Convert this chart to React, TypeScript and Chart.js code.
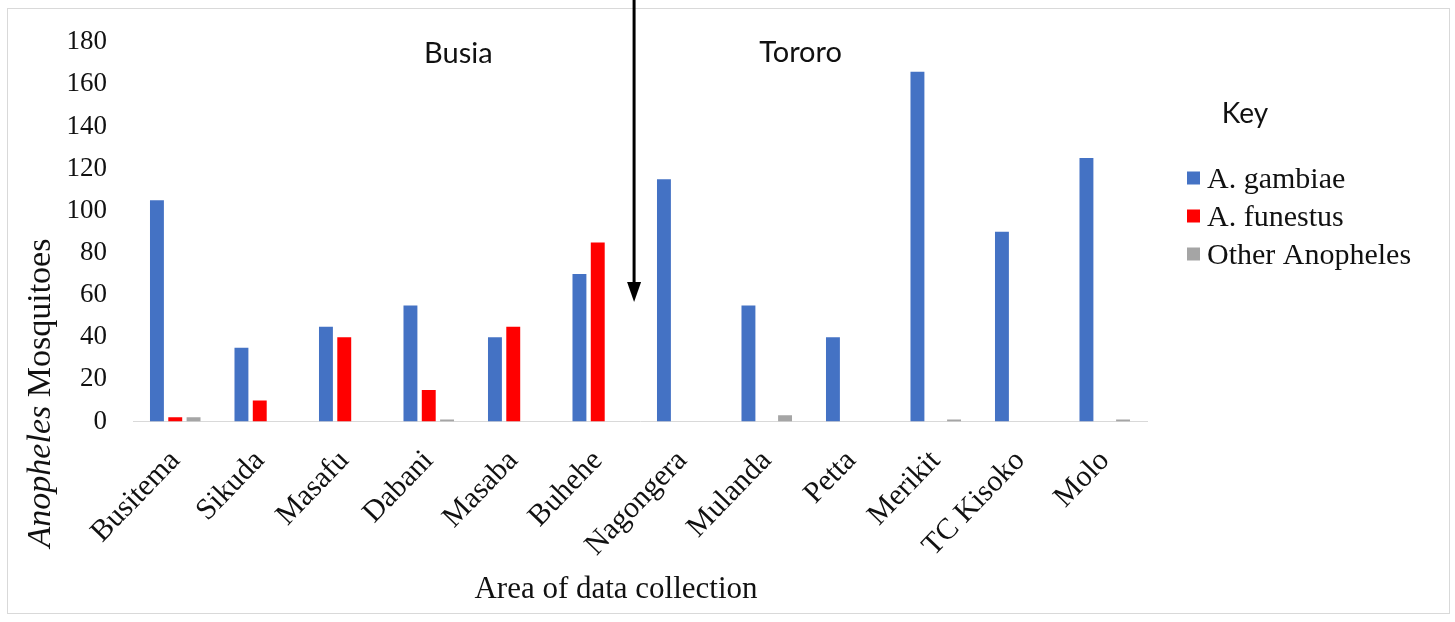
import React, { useEffect, useRef } from 'react';
import { Chart, registerables } from 'chart.js';

Chart.register(...registerables);

const categories = ['Busitema', 'Sikuda', 'Masafu', 'Dabani', 'Masaba', 'Buhehe', 'Nagongera', 'Mulanda', 'Petta', 'Merikit', 'TC Kisoko', 'Molo'];
const gambiae = [105, 35, 45, 55, 40, 70, 115, 55, 40, 166, 90, 125];
const funestus = [2, 10, 40, 15, 45, 85, 0, 0, 0, 0, 0, 0];
const otherAnopheles = [2, 0, 0, 1, 0, 0, 0, 3, 0, 1, 0, 1];
const seriesNames = ['A. gambiae', 'A. funestus', 'Other Anopheles'];
const seriesColors = ['#4472C4', '#FF0000', '#A5A5A5'];
const regionLabels = ['Busia', 'Tororo'];
const legendTitle = 'Key';
const yTitleItalic = 'Anopheles';
const yTitleRest = ' Mosquitoes';
const xTitle = 'Area of data collection';
const yMin = 0;
const yMax = 180;
const yStep = 20;

const SERIF = "'Times New Roman', 'Liberation Serif', serif";
const SANS = "Lato, 'Open Sans', sans-serif";
const W = 1455;
const H = 622;

const overlay = {
  id: 'overlay',
  afterDraw(chart: any) {
    const { ctx } = chart;
    const xs = chart.scales.x;
    ctx.save();
    // outer frame
    ctx.strokeStyle = '#d9d9d9';
    ctx.lineWidth = 1;
    ctx.strokeRect(7.5, 8.5, 1442, 605);

    // region labels
    ctx.fillStyle = '#111';
    ctx.font = `29px ${SANS}`;
    ctx.textAlign = 'center';
    ctx.textBaseline = 'alphabetic';
    ctx.fillText(regionLabels[0], xs.getPixelForValue(3.35), 63);
    ctx.fillText(regionLabels[1], xs.getPixelForValue(7.4), 62);

    // arrow
    const ax = xs.getPixelForValue(5.43);
    ctx.strokeStyle = '#000';
    ctx.lineWidth = 3;
    ctx.beginPath();
    ctx.moveTo(ax, 0);
    ctx.lineTo(ax, 286);
    ctx.stroke();
    ctx.fillStyle = '#000';
    ctx.beginPath();
    ctx.moveTo(ax - 7, 282);
    ctx.lineTo(ax + 7, 282);
    ctx.lineTo(ax, 302);
    ctx.closePath();
    ctx.fill();

    // y title
    ctx.save();
    ctx.translate(50, 393);
    ctx.rotate(-Math.PI / 2);
    ctx.fillStyle = '#111';
    ctx.textBaseline = 'alphabetic';
    ctx.textAlign = 'left';
    ctx.font = `italic 34px ${SERIF}`;
    const w1 = ctx.measureText(yTitleItalic).width;
    ctx.font = `34px ${SERIF}`;
    const w2 = ctx.measureText(yTitleRest).width;
    const start = -(w1 + w2) / 2;
    ctx.font = `italic 34px ${SERIF}`;
    ctx.fillText(yTitleItalic, start, 0);
    ctx.font = `34px ${SERIF}`;
    ctx.fillText(yTitleRest, start + w1, 0);
    ctx.restore();

    // x title
    ctx.fillStyle = '#111';
    ctx.font = `31px ${SERIF}`;
    ctx.textAlign = 'center';
    ctx.textBaseline = 'alphabetic';
    ctx.fillText(xTitle, 616, 598);

    // legend
    ctx.font = `28px ${SANS}`;
    ctx.textAlign = 'center';
    ctx.fillText(legendTitle, 1245, 123);
    ctx.textAlign = 'left';
    ctx.font = `30px ${SERIF}`;
    const rows = [178, 216, 254];
    seriesNames.forEach((name, i) => {
      ctx.fillStyle = seriesColors[i];
      ctx.fillRect(1187, rows[i] - 6.5, 13, 13);
      ctx.fillStyle = '#111';
      ctx.textBaseline = 'alphabetic';
      ctx.fillText(name, 1207, rows[i] + 10);
    });
    ctx.restore();
  },
};

export default function App() {
  const ref = useRef<HTMLCanvasElement | null>(null);
  useEffect(() => {
    if (!ref.current) return;
    const seriesData = [gambiae, funestus, otherAnopheles];
    const chart = new Chart(ref.current, {
      type: 'bar',
      data: {
        labels: categories,
        datasets: seriesNames.map((name, i) => ({
          label: name,
          data: seriesData[i],
          backgroundColor: seriesColors[i],
          borderWidth: 0,
          categoryPercentage: 0.65,
          barPercentage: 0.76,
        })),
      },
      options: {
        responsive: false,
        animation: false,
        devicePixelRatio: 1,
        layout: { padding: { left: 0, right: W - 1147, top: 37, bottom: 0 } },
        plugins: {
          legend: { display: false },
          tooltip: { enabled: false },
        },
        scales: {
          x: {
            grid: { display: false, drawTicks: false },
            border: { display: true, color: '#d9d9d9', width: 1 },
            ticks: {
              color: '#111',
              font: { family: SERIF, size: 30 },
              minRotation: 46,
              maxRotation: 46,
              autoSkip: false,
              padding: 22,
            },
            afterFit: (s: any) => {
              s.height = H - 421.5;
            },
          },
          y: {
            min: yMin,
            max: yMax,
            grid: { display: false, drawTicks: false },
            border: { display: false },
            ticks: {
              stepSize: yStep,
              color: '#111',
              font: { family: SERIF, size: 27 },
              padding: 26,
            },
            afterFit: (s: any) => {
              s.width = 133;
            },
          },
        },
      },
      plugins: [overlay],
    });
    return () => chart.destroy();
  }, []);

  return (
    <canvas
      ref={ref}
      width={W}
      height={H}
      style={{ position: 'fixed', left: 0, top: 0, width: W, height: H, display: 'block' }}
    />
  );
}
